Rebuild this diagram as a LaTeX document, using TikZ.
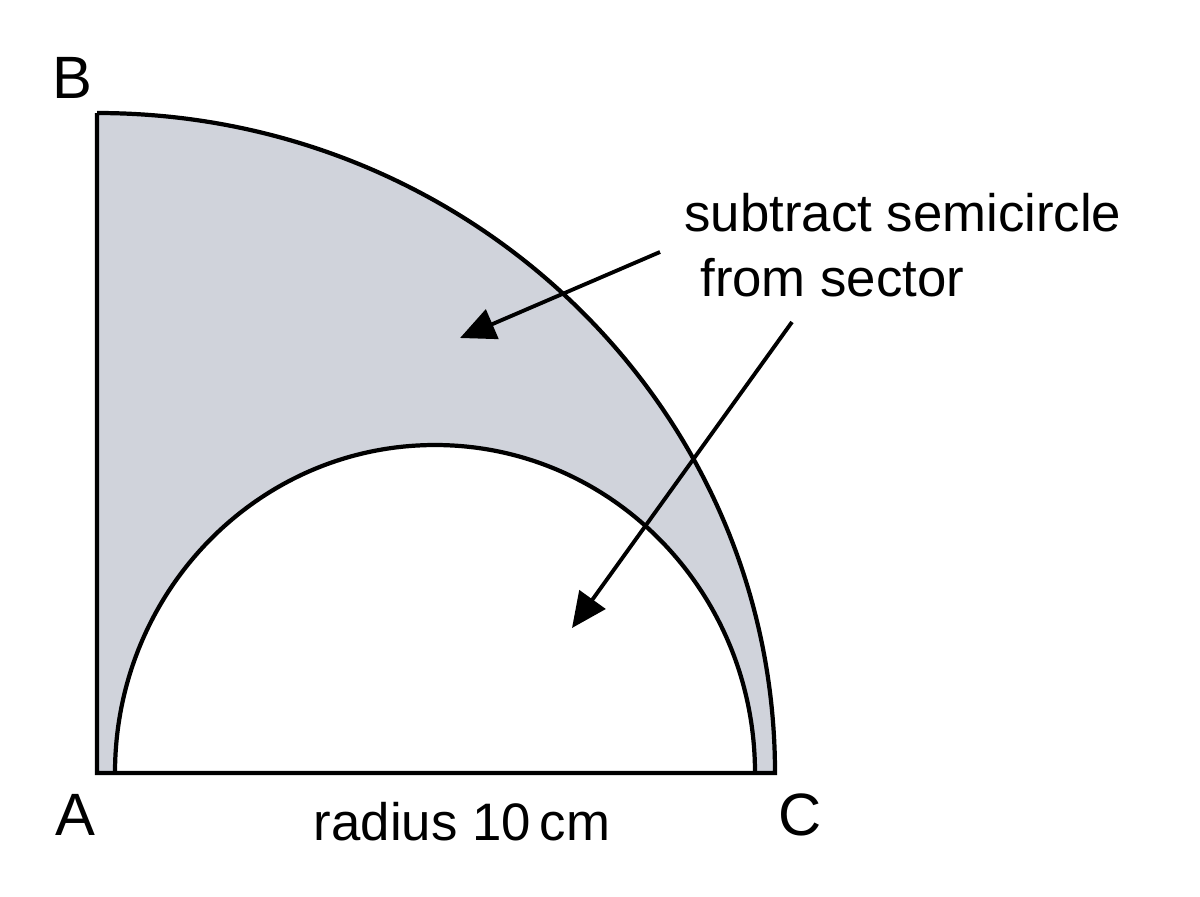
\documentclass[tikz,border=0pt]{standalone}
\usepackage{fontspec}
\setmainfont{Liberation Sans}
\usetikzlibrary{arrows.meta,positioning}
\definecolor{sectorgrey}{RGB}{208,211,219}
\begin{document}
\begin{tikzpicture}[x=0.01cm,y=-0.01cm,
  outline/.style={line width=1.2pt,black},
  pointer/.style={line width=1.1pt,-{Triangle[length=10pt,width=9pt]}},
  pt/.style={font=\fontsize{17}{19}\selectfont},
  note/.style={font=\fontsize{15}{17}\selectfont,align=left}]
  \useasboundingbox (0,0) rectangle (1200,896);
  \coordinate (A) at (97,773);
  \coordinate (C) at (775,773);
  \coordinate (B) at (97,113);
  %Sector and semicircle
  \fill[sectorgrey] (A) -- (C) arc[start angle=0,end angle=90,x radius=678,y radius=-660] -- cycle;
  \fill[white] (115,773) arc[start angle=180,end angle=0,x radius=320,y radius=-328] -- cycle;
  \draw[outline] (B) -- (A) -- (C) arc[start angle=0,end angle=90,x radius=678,y radius=-660];
  \draw[outline] (115,773) arc[start angle=180,end angle=0,x radius=320,y radius=-328];
  %Labels
  \node[pt] (la) at (75,815) {A};
  \node[pt] (lb) at (72,78) {B};
  \node[pt] (lc) at (800,815) {C};
  \node[note] (rad) at (462,822) {radius 10\,cm};
  \node[note,anchor=west] (t1) at (672,213) {subtract semicircle};
  \node[note,anchor=west] (t2) at (688,278) {from\ sector};
  \coordinate (s1) at (660,252);
  \coordinate (e1) at (460,338);
  \coordinate (s2) at (792,322);
  \coordinate (e2) at (572,628);
  \draw[pointer] (s1) -- (e1);
  \draw[pointer] (s2) -- (e2);
\end{tikzpicture}
\end{document}
